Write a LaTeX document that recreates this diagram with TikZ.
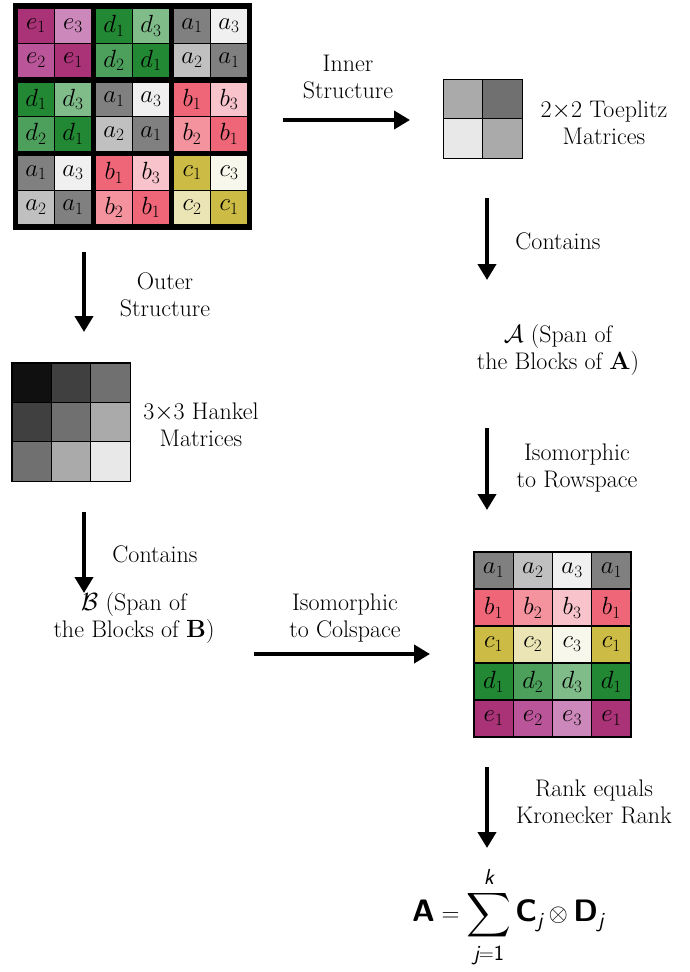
\documentclass[tikz,border=0pt]{standalone}
\usepackage{amsmath}
\usepackage{amssymb}
\usepackage{tikz}
\usetikzlibrary{arrows.meta,positioning,shapes}
\usepackage{xcolor}

% block colours
\definecolor{a1}{HTML}{808080}
\definecolor{a2}{HTML}{C0C0C0}
\definecolor{a3}{HTML}{F0F0F0}
\definecolor{b1}{HTML}{EE6677}
\definecolor{b2}{HTML}{F4929E}
\definecolor{b3}{HTML}{F8C3CB}
\definecolor{c1}{HTML}{CCBB44}
\definecolor{c2}{HTML}{EBE5B5}
\definecolor{c3}{HTML}{F8F7EC}
\definecolor{d1}{HTML}{228833}
\definecolor{d2}{HTML}{4DA05C}
\definecolor{d3}{HTML}{7FBC8A}
\definecolor{e1}{HTML}{AA3377}
\definecolor{e2}{HTML}{BB5599}
\definecolor{e3}{HTML}{CC88BB}
% grey shades
\definecolor{h0}{HTML}{101010}
\definecolor{h1}{HTML}{404040}
\definecolor{h2}{HTML}{707070}
\definecolor{h3}{HTML}{AAAAAA}
\definecolor{h4}{HTML}{E8E8E8}

\begin{document}
\begin{tikzpicture}[x=1pt,y=-1pt,
    font=\fontsize{24}{27}\selectfont]
	\tikzstyle{bigcell}
	  =[rectangle, inner sep=0pt, minimum width=36pt,
	  minimum height=33.5pt, font=\fontsize{23}{27}\selectfont]
	\tikzstyle{rcell}
	  =[draw, line width=1.2pt, rectangle, inner sep=0pt,
	  minimum width=39.25pt, minimum height=37pt,
	  font=\fontsize{23}{27}\selectfont]
	\tikzstyle{gcell}
	  =[draw, line width=1.2pt, rectangle, inner sep=0pt,
	  minimum width=39.4pt, minimum height=39.4pt]
	\tikzstyle{txt}
	  =[align=center, inner sep=0pt]
	\tikzstyle{bigarrow}
	  =[line width=4.5pt, -{Triangle[length=16pt,width=18pt]}]

	\useasboundingbox (0,0) rectangle (689,972);

	% block matrix
	\node[fill=black, inner sep=0pt, minimum width=239pt,
	  minimum height=227pt] (bigmat) at (132.5,116.5) {};
	\foreach \row in {0,1,2}
	  \foreach \col in {0,1,2}{
	    \pgfmathtruncatemacro\k{\row+\col}
	    \pgfmathsetmacro\ltr{{"e","d","a","b","c"}[\k]}
	    \foreach \i/\j/\n in {0/0/1,0/1/3,1/0/2,1/1/1}
	      \node[bigcell, fill=\ltr\n] (m\row\col\i\j)
	        at ({36+78*\col+37*\j},{25.75+73.5*\row+34.5*\i})
	        {$\ltr_{\n}$};
	  }

	% toeplitz pattern
	\foreach \row/\col/\shade in {0/0/h3,0/1/h2,1/0/h4,1/1/h3}
	  \node[gcell, fill=\shade] (t\row\col)
	    at ({463+39.5*\col},{99+39.5*\row}) {};
	\node[txt] (toeplitz) at (604,123)
	  {2$\times$2 Toeplitz\\Matrices};

	% hankel pattern
	\foreach \row in {0,1,2}
	  \foreach \col in {0,1,2}{
	    \pgfmathtruncatemacro\k{\row+\col}
	    \node[gcell, fill=h\k] (h\row\col)
	      at ({31.7+39.4*\col},{382.7+39.4*\row}) {};
	  }
	\node[txt] (hankel) at (201,425)
	  {3$\times$3 Hankel\\Matrices};

	% rearranged matrix
	\foreach \ltr [count=\row from 0] in {a,b,c,d,e}
	  \foreach \n [count=\col from 0] in {1,2,3,1}
	    \node[rcell, fill=\ltr\n] (r\row\col)
	      at ({493.6+39.25*\col},{570.5+37*\row}) {$\ltr_{\n}$};

	% spans
	\node[txt] (spanA) at (558,350)
	  {$\mathcal{A}$ (Span of\\the Blocks of $\mathbf{A}$)};
	\node[txt] (spanB) at (134,618)
	  {$\mathcal{B}$ (Span of\\the Blocks of $\mathbf{B}$)};

	\node[inner sep=0pt] (formula) at (508,917)
	  {\fontsize{31}{36}\selectfont
	  $\textsf{\bfseries A}=\displaystyle\sum_{\textsf{\itshape j}=\textsf{1}}^{\textsf{\itshape k}}
	  \textsf{\bfseries C}_{\textsf{\itshape j}}\otimes
	  \textsf{\bfseries D}_{\textsf{\itshape j}}$};

	% arrow labels
	\node[txt] (innerlab) at (348,77) {Inner\\Structure};
	\node[txt] (outerlab) at (165,295) {Outer\\Structure};
	\node[txt] (contA) at (558,241) {Contains};
	\node[txt] (contB) at (155,554) {Contains};
	\node[txt] (isorow) at (577,468) {Isomorphic\\to Rowspace};
	\node[txt] (isocol) at (345,618) {Isomorphic\\to Colspace};
	\node[txt] (ranklab) at (594,802) {Rank equals\\Kronecker Rank};

	% arrow ends
	\coordinate (inner s) at (283,120);
	\coordinate (inner e) at (410,120);
	\coordinate (outer s) at (84,252);
	\coordinate (outer e) at (84,332);
	\coordinate (contA s) at (487,198);
	\coordinate (contA e) at (487,280);
	\coordinate (isorow s) at (487,428);
	\coordinate (isorow e) at (487,510);
	\coordinate (contB s) at (84,512);
	\coordinate (contB e) at (84,593);
	\coordinate (isocol s) at (254,654);
	\coordinate (isocol e) at (430,654);
	\coordinate (rank s) at (487,767);
	\coordinate (rank e) at (487,848);

	\draw[bigarrow] (inner s)--(inner e);
	\draw[bigarrow] (outer s)--(outer e);
	\draw[bigarrow] (contA s)--(contA e);
	\draw[bigarrow] (isorow s)--(isorow e);
	\draw[bigarrow] (contB s)--(contB e);
	\draw[bigarrow] (isocol s)--(isocol e);
	\draw[bigarrow] (rank s)--(rank e);
\end{tikzpicture}
\end{document}
